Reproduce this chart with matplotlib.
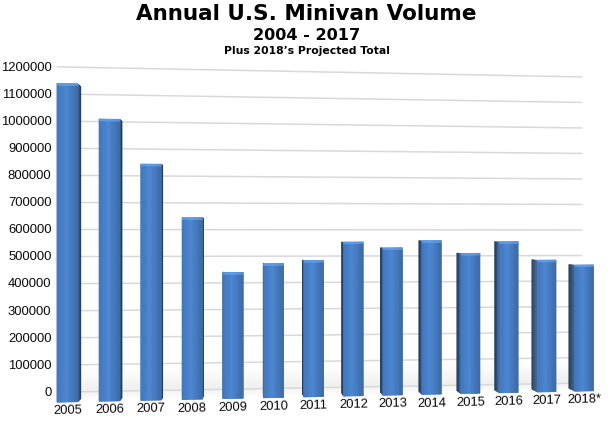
import matplotlib
matplotlib.use("Agg")
import numpy as np
import matplotlib.pyplot as plt
from matplotlib.transforms import Transform
from matplotlib.colors import to_rgb

years = ["2005", "2006", "2007", "2008", "2009", "2010", "2011", "2012", "2013", "2014", "2015", "2016", "2017", "2018*"]
volumes = [1175000, 1046000, 880000, 680000, 474000, 506000, 518000, 587000, 564000, 591000, 542000, 586000, 514000, 494000]
y_ticks = [0, 100000, 200000, 300000, 400000, 500000, 600000, 700000, 800000, 900000, 1000000, 1100000, 1200000]
title = "Annual U.S. Minivan Volume"
subtitle = "2004 - 2017"
note = "Plus 2018\u2019s Projected Total"


class Perspective(Transform):
    """Maps (bar index, value) on a tilted plane to picture pixels."""
    input_dims = output_dims = 2
    A, C, S = 42.2, 0.00475, 27.08 / 100000

    def __init__(self, x0, y0, dy):
        super().__init__()
        self.x0, self.y0, self.dy = x0, y0, dy

    def transform_non_affine(self, pts):
        pts = np.asarray(pts, float)
        t, v = pts[:, 0], pts[:, 1]
        w = 1 + self.C * t
        return np.column_stack([self.x0 + self.A * t / w,
                                (self.y0 + self.dy * t - self.S * v) / w])


class SideFace(Perspective):
    """Maps (depth, value) on the side of a bar whose edge is at index t."""
    VP = (240.0, 230.0)
    K = 0.018

    def __init__(self, t, x0, y0, dy):
        super().__init__(x0, y0, dy)
        self.t = t

    def transform_non_affine(self, pts):
        pts = np.asarray(pts, float)
        z, v = pts[:, 0], pts[:, 1]
        p = super().transform_non_affine(np.column_stack([np.full_like(z, self.t), v]))
        return np.column_stack([p[:, 0] + z * self.K * (self.VP[0] - p[:, 0]),
                                p[:, 1] + z * self.K * (self.VP[1] - p[:, 1])])


def mix(c1, c2, f):
    a, b = np.array(to_rgb(c1)), np.array(to_rgb(c2))
    return tuple(a + (b - a) * f)


W, H = 610, 421
fig = plt.figure(figsize=(W / 100, H / 100), dpi=100)
ax = fig.add_axes([0, 0, 1, 1])
ax.set_xlim(0, W)
ax.set_ylim(H, 0)
ax.axis("off")
plt.rcParams["font.family"] = ["Liberation Sans", "DejaVu Sans"]

wall = Perspective(67.5, 392, 1.13) + ax.transData
front = Perspective(67.5, 402, 1.015) + ax.transData
t_left, t_right = -0.25, 12.95
half = 0.25

# floor shading
levels = np.linspace(-30000, 90000, 25)
for lo, hi in zip(levels[:-1], levels[1:]):
    m = (lo + hi) / 2
    f = (m + 30000) / 40000 if m < 10000 else (90000 - m) / 80000
    ax.bar((t_left + t_right) / 2, hi - lo, t_right - t_left, bottom=lo, transform=wall,
           color=mix("#ffffff", "#efefef", f), linewidth=0.3, edgecolor=mix("#ffffff", "#efefef", f), zorder=1)

# gridlines on the back wall
for v in y_ticks:
    ax.plot([t_left, t_right], [v, v], transform=wall, color="#d9d9d9", lw=1.1, zorder=2, solid_capstyle="butt")
    ax.annotate(f"{v}", xy=(t_left, v), xycoords=wall, xytext=(-5.5 * 0.72, -0.5), textcoords="offset points",
                ha="right", va="center", fontsize=9.4, color="#0a0a0a", zorder=5)

# bars
n_slice = 24
n_side = 6
for i, (yr, val) in enumerate(zip(years, volumes)):
    edge = i + half if i < 4 else i - half
    side = SideFace(edge, 67.5, 402, 1.015) + ax.transData
    for k in range(n_side):
        f = k / (n_side - 1)
        col = mix("#3a6296", "#213a58", f)
        ax.bar((k + 0.5) / n_side, val, 1 / n_side, transform=side, color=col, edgecolor=col,
               linewidth=0.3, zorder=3)
    for k in range(n_slice):
        f = (k + 0.5) / n_slice
        col = mix("#3f75ba", "#4c86d2", f / 0.45) if f < 0.45 else mix("#4c86d2", "#3c6aa6", (f - 0.45) / 0.55)
        off = i - half + 2 * half * f
        ax.bar(off, val, 2 * half / n_slice, transform=front, color=col, edgecolor=col, linewidth=0.5, zorder=4)
        top = mix(col, "#6fb0ff", 0.6)
        ax.bar(off, 7000, 2 * half / n_slice, bottom=val - 7000, transform=front, color=top, edgecolor=top,
               linewidth=0.3, zorder=4.5)
    ax.annotate(yr, xy=(i, 0), xycoords=front, xytext=(0, -9 * 0.72), textcoords="offset points",
                ha="center", va="center", fontsize=9.4, rotation=1, color="#0a0a0a", zorder=5)

# titles
ax.text(306.5, 14, title, ha="center", va="center", fontsize=15.5, fontweight="bold", family="DejaVu Sans", color="black")
ax.text(306.5, 36, subtitle, ha="center", va="center", fontsize=11.6, fontweight="bold", family="DejaVu Sans", color="black")
ax.text(306.5, 51, note, ha="center", va="center", fontsize=7.8, fontweight="bold", family="DejaVu Sans", color="black")

fig.savefig("out.png", dpi=100)
